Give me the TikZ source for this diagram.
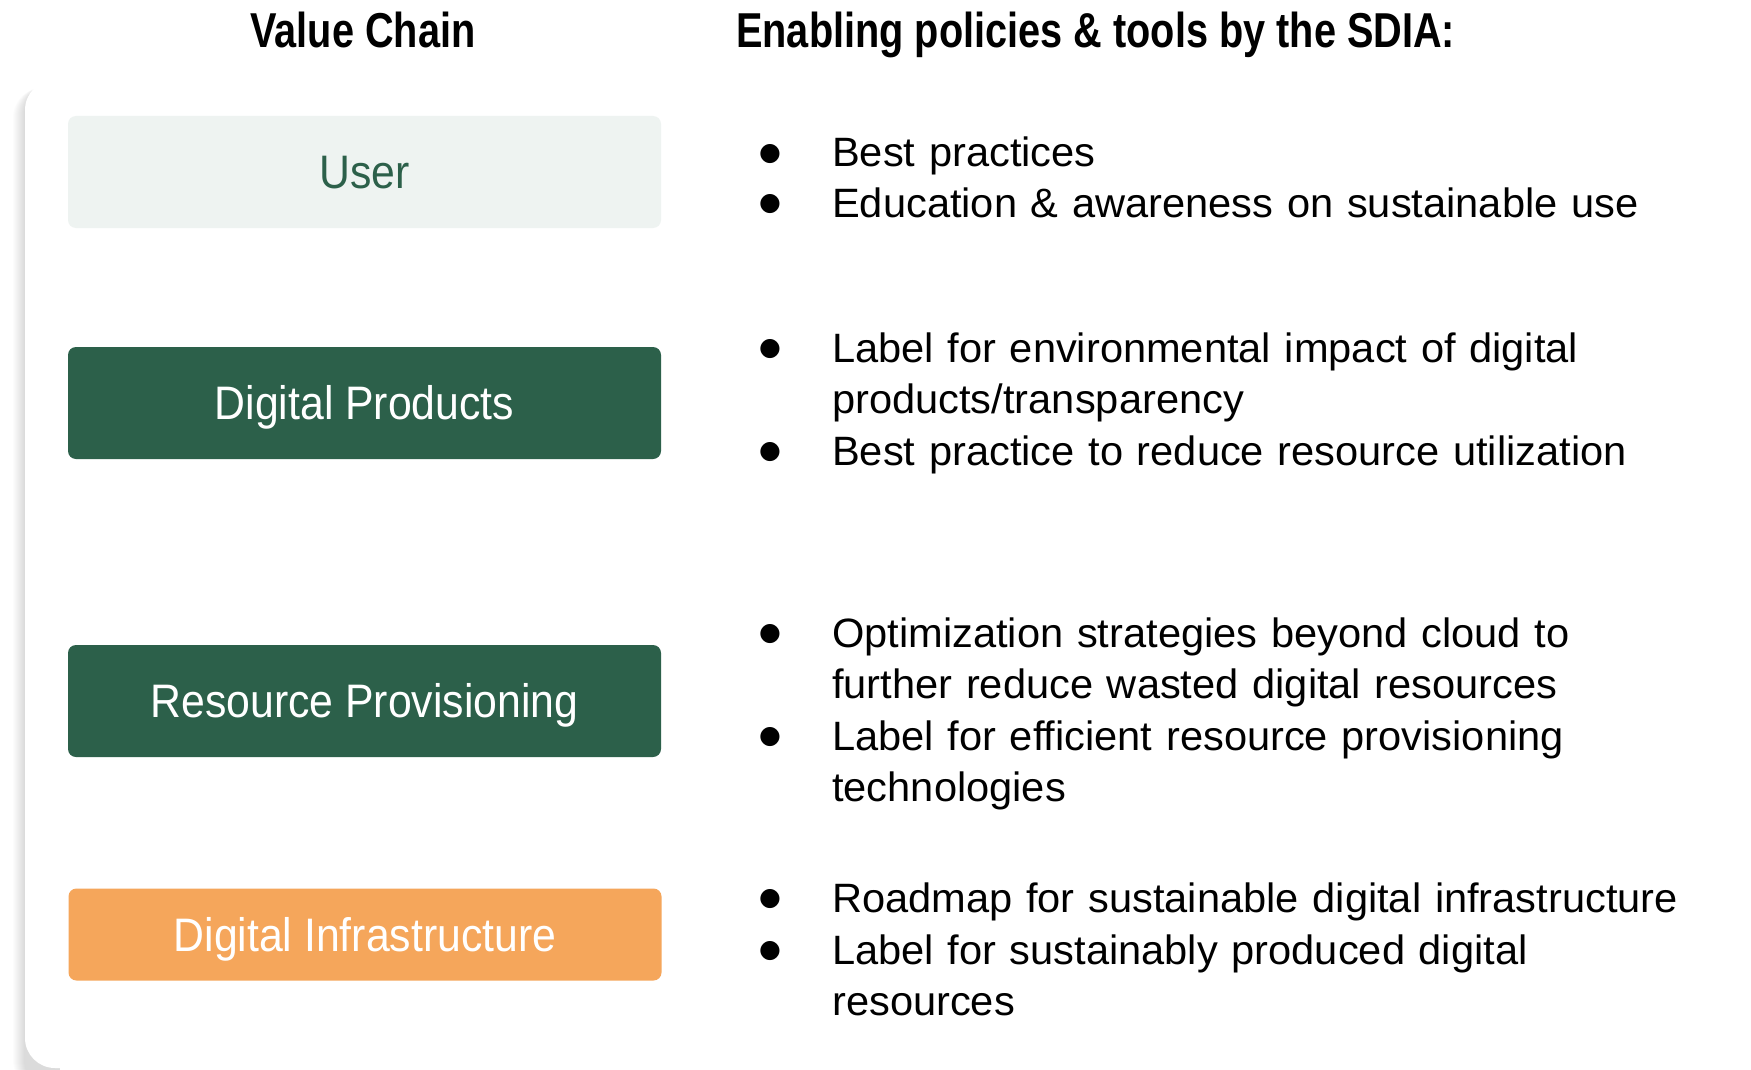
\documentclass[tikz,border=0pt]{standalone}
\usepackage{fontspec}
\setmainfont{Liberation Sans}[FakeStretch=1.015]
\newfontfamily\condfont{Liberation Sans}[FakeStretch=0.91]
\newfontfamily\headfont{Liberation Sans Bold}[FakeStretch=0.81]
\newfontfamily\bulletfont{DejaVu Sans}
\definecolor{sdgreen}{HTML}{2C604A}
\definecolor{sdorange}{HTML}{F5A65B}
\definecolor{userfill}{HTML}{EEF3F1}
\tikzset{
  heading/.style={inner sep=0pt, font=\headfont\fontsize{49}{55}\selectfont},
  chainbox/.style={rounded corners=8pt, minimum width=593pt, minimum height=112pt, inner sep=0pt,
     text height=33.5pt, text depth=0pt, font=\condfont\fontsize{47}{52}\selectfont},
  item/.style={anchor=base west, inner sep=0pt, text width=900pt, align=left,
     font=\fontsize{41}{51.3}\selectfont},
  bul/.style={inner sep=0pt, font=\bulletfont\fontsize{25}{25}\selectfont}
}
\begin{document}
\begin{tikzpicture}[x=1pt,y=-1pt]
\useasboundingbox (0,0) rectangle (1751,1070);
% panel shadow (left side only)
\begin{scope}
\clip (0,0) rectangle (60,1070);
\foreach \i in {1,...,12}{
  \fill[black, opacity=0.011, rounded corners=30pt] (25-\i,84+\i*0.3) rectangle (700,1090);
}
\end{scope}
\fill[white, rounded corners=30pt] (25,80) rectangle (760,1068);
\fill[white] (700,60) rectangle (760,1070);
% headings
\node[heading, anchor=base] (h1) at (363,48) {Value Chain};
\node[heading, anchor=base west] (h2) at (736,48) {Enabling policies \& tools by the SDIA:};
% value chain boxes
\node[chainbox, fill=userfill, text=sdgreen] (user) at (364.5,172) {User};
\node[chainbox, fill=sdgreen, text=white] (dp) at (364.5,403) {Digital Products};
\node[chainbox, fill=sdgreen, text=white] (rp) at (364.5,701) {Resource Provisioning};
\node[chainbox, fill=sdorange, text=white, minimum height=92pt] (di) at (365,934.5) {Digital Infrastructure};
% bullets and items
\node[item] (u1) at (832,167) {Best practices};
\node[item] (u2) at (832,217) {Education \& awareness on sustainable use};
\node[item] (p1) at (832,362) {Label for environmental impact of digital\\products/transparency};
\node[item] (p2) at (832,465) {Best practice to reduce resource utilization};
\node[item] (r1) at (832,647) {Optimization strategies beyond cloud to\\further reduce wasted digital resources};
\node[item] (r2) at (832,750) {Label for efficient resource provisioning\\technologies};
\node[item] (i1) at (832,912) {Roadmap for sustainable digital infrastructure};
\node[item] (i2) at (832,964) {Label for sustainably produced digital\\resources};
\foreach \n/\y in {bu1/167,bu2/217,bp1/362,bp2/465,br1/647,br2/750,bi1/912,bi2/964}{
  \node[bul] (\n) at (770,\y-13) {●};
}
\end{tikzpicture}
\end{document}
